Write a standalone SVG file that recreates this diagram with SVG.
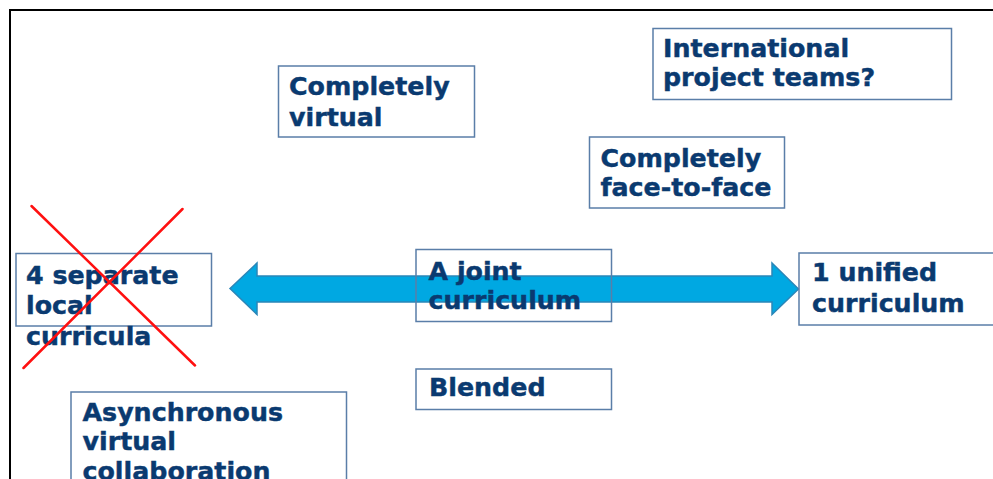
<svg xmlns="http://www.w3.org/2000/svg" width="993" height="479" viewBox="0 0 993 479">
  <style>
    .frame { fill: none; stroke: #000000; stroke-width: 2; }
    .box { fill: none; stroke: #5a7ea8; stroke-width: 1.5; }
    .label { font-family: "DejaVu Sans", Verdana, sans-serif; font-weight: bold; font-size: 25.3px; fill: #0a3a70; stroke: #0a3a70; stroke-width: 0.45; }
    .arrow { fill: #00a8e2; stroke: #2a86b8; stroke-width: 1.5; stroke-linejoin: miter; }
    .cross { stroke: #ff1010; stroke-width: 2.5; stroke-linecap: round; }
  </style>
  <rect width="993" height="479" fill="#ffffff"/>
  <!-- slide frame, open past the right and bottom edges -->
  <rect class="frame" x="10" y="10" width="1000" height="500"/>

  <!-- double-headed axis -->
  <g id="connectors">
    <path class="arrow" d="M230,288.5 L257,263 L257,276 L772,276 L772,263 L798.5,289 L772,314.5 L772,302 L257,302 L257,314.5 Z"/>
  </g>

  <g id="node-virtual">
    <rect class="box" x="278.5" y="66" width="196" height="71"/>
    <text class="label" x="289" y="95">Completely</text>
    <text class="label" x="289" y="126">virtual</text>
  </g>

  <g id="node-teams">
    <rect class="box" x="653" y="28.5" width="298.5" height="71"/>
    <text class="label" x="663" y="57">International</text>
    <text class="label" x="663" y="86">project teams?</text>
  </g>

  <g id="node-f2f">
    <rect class="box" x="589.5" y="137" width="195" height="71"/>
    <text class="label" x="600.5" y="166.5">Completely</text>
    <text class="label" x="600.5" y="196">face-to-face</text>
  </g>

  <g id="node-separate">
    <rect class="box" x="16" y="253.5" width="195.5" height="72.5"/>
    <text class="label" x="26" y="283.5">4 separate</text>
    <text class="label" x="26" y="314">local</text>
    <text class="label" x="26" y="345">curricula</text>
    <line class="cross" x1="31.5" y1="206" x2="195" y2="365.5"/>
    <line class="cross" x1="182.5" y1="209" x2="23.5" y2="368"/>
  </g>

  <g id="node-joint">
    <rect class="box" x="416" y="249.5" width="195.5" height="72"/>
    <text class="label" x="428.5" y="279.5">A joint</text>
    <text class="label" x="428.5" y="309">curriculum</text>
  </g>

  <g id="node-unified">
    <rect class="box" x="799" y="253" width="210" height="72"/>
    <text class="label" x="812" y="281">1 unified</text>
    <text class="label" x="812" y="311.5">curriculum</text>
  </g>

  <g id="node-blended">
    <rect class="box" x="416" y="369" width="195.5" height="40.5"/>
    <text class="label" x="429" y="396">Blended</text>
  </g>

  <g id="node-async">
    <rect class="box" x="71" y="392" width="275.5" height="100"/>
    <text class="label" x="82.5" y="421">Asynchronous</text>
    <text class="label" x="82.5" y="450">virtual</text>
    <text class="label" x="82.5" y="480">collaboration</text>
  </g>
</svg>
